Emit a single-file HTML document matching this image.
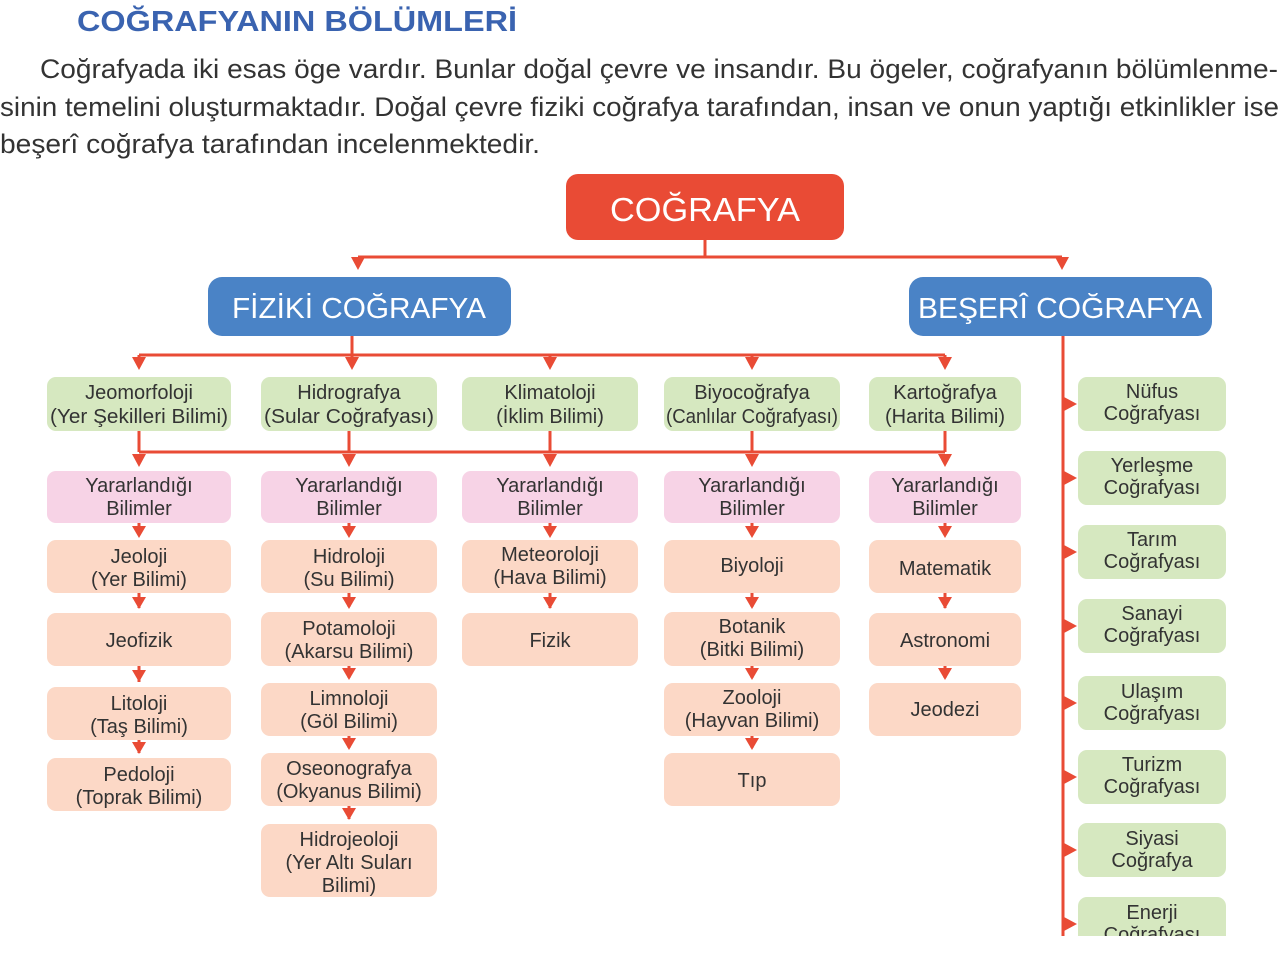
<!DOCTYPE html>
<html><head><meta charset="utf-8"><style>
html,body{margin:0;padding:0;background:#fff;width:1280px;height:976px;overflow:hidden}
svg{display:block}
text{font-family:"Liberation Sans",sans-serif}
.b{font-size:20px;fill:#333;text-anchor:middle}
</style></head><body>
<svg width="1280" height="976" viewBox="0 0 1280 976" xmlns="http://www.w3.org/2000/svg">
<text x="77" y="31" font-size="29" font-weight="bold" fill="#3a63b0" textLength="440" lengthAdjust="spacingAndGlyphs">COĞRAFYANIN BÖLÜMLERİ</text>
<g font-size="27" fill="#333">
<text x="40" y="78" textLength="1238" lengthAdjust="spacingAndGlyphs">Coğrafyada iki esas öge vardır. Bunlar doğal çevre ve insandır. Bu ögeler, coğrafyanın bölümlenme-</text>
<text x="0" y="116" textLength="1279" lengthAdjust="spacingAndGlyphs">sinin temelini oluşturmaktadır. Doğal çevre fiziki coğrafya tarafından, insan ve onun yaptığı etkinlikler ise</text>
<text x="0" y="153" textLength="540" lengthAdjust="spacingAndGlyphs">beşerî coğrafya tarafından incelenmektedir.</text>
</g>

<!-- connectors -->
<g stroke="#e94b35" stroke-width="3" fill="none">
<path d="M705 240V257M358 257H1062M358 257V262M1062 257V262"/>
<path d="M352 336V355M139 355H945M139 355V360M352 355V360M550 355V360M752 355V360M945 355V360"/>
<path d="M139 431V452M349 431V452M550 431V452M752 431V452M945 431V452M139 452H945"/>
<path d="M139 523V535M139 593V608M139 666V682M139 740V753"/>
<path d="M349 523V535M349 593V607M349 666V678M349 736V748M349 806V819"/>
<path d="M550 523V535M550 593V608"/>
<path d="M752 523V535M752 593V607M752 666V678M752 736V748"/>
<path d="M945 523V535M945 593V608M945 666V678"/>
<path d="M1063 336V936"/>
</g>
<g fill="#e94b35">
<path d="M351 257h14l-7 13zM1055 257h14l-7 13z"/>
<path d="M132 357h14l-7 13zM345 357h14l-7 13zM543 357h14l-7 13zM745 357h14l-7 13zM938 357h14l-7 13z"/>
<path d="M132 454h14l-7 13zM342 454h14l-7 13zM543 454h14l-7 13zM745 454h14l-7 13zM938 454h14l-7 13z"/>
<path d="M132 526h14l-7 12zM132 597h14l-7 12zM132 670h14l-7 12zM132 742h14l-7 12z"/>
<path d="M342 526h14l-7 12zM342 597h14l-7 12zM342 668h14l-7 12zM342 738h14l-7 12zM342 808h14l-7 12z"/>
<path d="M543 526h14l-7 12zM543 597h14l-7 12z"/>
<path d="M745 526h14l-7 12zM745 597h14l-7 12zM745 668h14l-7 12zM745 738h14l-7 12z"/>
<path d="M938 526h14l-7 12zM938 597h14l-7 12zM938 668h14l-7 12z"/>
<path d="M1064 397v14l13-7zM1064 471v14l13-7zM1064 545v14l13-7zM1064 619v14l13-7zM1064 696v14l13-7zM1064 770v14l13-7zM1064 843v14l13-7zM1064 917v14l13-7z"/>
</g>

<!-- main boxes -->
<rect x="566" y="174" width="278" height="66" rx="12" fill="#e94b35"/>
<text x="705" y="221" font-size="33" fill="#fff" text-anchor="middle" textLength="190" lengthAdjust="spacingAndGlyphs">COĞRAFYA</text>
<rect x="208" y="277" width="303" height="59" rx="14" fill="#4a83c6"/>
<text x="359" y="318" font-size="29" fill="#fff" text-anchor="middle" textLength="254" lengthAdjust="spacingAndGlyphs">FİZİKİ COĞRAFYA</text>
<rect x="909" y="277" width="303" height="59" rx="14" fill="#4a83c6"/>
<text x="1060" y="318" font-size="29" fill="#fff" text-anchor="middle" textLength="284" lengthAdjust="spacingAndGlyphs">BEŞERÎ COĞRAFYA</text>

<!-- green row -->
<g fill="#d6e8c0">
<rect x="47" y="377" width="184" height="54" rx="9"/><rect x="261" y="377" width="176" height="54" rx="9"/><rect x="462" y="377" width="176" height="54" rx="9"/><rect x="664" y="377" width="176" height="54" rx="9"/><rect x="869" y="377" width="152" height="54" rx="9"/>
<rect x="1078" y="377" width="148" height="54" rx="9"/><rect x="1078" y="451" width="148" height="54" rx="9"/><rect x="1078" y="525" width="148" height="54" rx="9"/><rect x="1078" y="599" width="148" height="54" rx="9"/><rect x="1078" y="676" width="148" height="54" rx="9"/><rect x="1078" y="750" width="148" height="54" rx="9"/><rect x="1078" y="823" width="148" height="54" rx="9"/><rect x="1078" y="897" width="148" height="54" rx="9"/>
</g>
<g fill="#f7d3e6">
<rect x="47" y="471" width="184" height="52" rx="9"/><rect x="261" y="471" width="176" height="52" rx="9"/><rect x="462" y="471" width="176" height="52" rx="9"/><rect x="664" y="471" width="176" height="52" rx="9"/><rect x="869" y="471" width="152" height="52" rx="9"/>
</g>
<g fill="#fcd8c6">
<rect x="47" y="540" width="184" height="53" rx="9"/><rect x="47" y="613" width="184" height="53" rx="9"/><rect x="47" y="687" width="184" height="53" rx="9"/><rect x="47" y="758" width="184" height="53" rx="9"/>
<rect x="261" y="540" width="176" height="53" rx="9"/><rect x="261" y="612" width="176" height="54" rx="9"/><rect x="261" y="683" width="176" height="53" rx="9"/><rect x="261" y="753" width="176" height="53" rx="9"/><rect x="261" y="824" width="176" height="73" rx="9"/>
<rect x="462" y="540" width="176" height="53" rx="9"/><rect x="462" y="613" width="176" height="53" rx="9"/>
<rect x="664" y="540" width="176" height="53" rx="9"/><rect x="664" y="612" width="176" height="54" rx="9"/><rect x="664" y="683" width="176" height="53" rx="9"/><rect x="664" y="753" width="176" height="53" rx="9"/>
<rect x="869" y="540" width="152" height="53" rx="9"/><rect x="869" y="613" width="152" height="53" rx="9"/><rect x="869" y="683" width="152" height="53" rx="9"/>
</g>
<rect x="1060" y="937" width="220" height="39" fill="#fff"/>

<g class="b">
<text x="139" y="399">Jeomorfoloji</text><text x="139" y="423" textLength="178" lengthAdjust="spacingAndGlyphs">(Yer Şekilleri Bilimi)</text>
<text x="349" y="399">Hidrografya</text><text x="349" y="423" textLength="170" lengthAdjust="spacingAndGlyphs">(Sular Coğrafyası)</text>
<text x="550" y="399">Klimatoloji</text><text x="550" y="423">(İklim Bilimi)</text>
<text x="752" y="399">Biyocoğrafya</text><text x="752" y="423" textLength="172" lengthAdjust="spacingAndGlyphs">(Canlılar Coğrafyası)</text>
<text x="945" y="399">Kartoğrafya</text><text x="945" y="423">(Harita Bilimi)</text>

<text x="139" y="492">Yararlandığı</text><text x="139" y="515">Bilimler</text>
<text x="349" y="492">Yararlandığı</text><text x="349" y="515">Bilimler</text>
<text x="550" y="492">Yararlandığı</text><text x="550" y="515">Bilimler</text>
<text x="752" y="492">Yararlandığı</text><text x="752" y="515">Bilimler</text>
<text x="945" y="492">Yararlandığı</text><text x="945" y="515">Bilimler</text>

<text x="139" y="563">Jeoloji</text><text x="139" y="586">(Yer Bilimi)</text>
<text x="139" y="647">Jeofizik</text>
<text x="139" y="710">Litoloji</text><text x="139" y="733">(Taş Bilimi)</text>
<text x="139" y="781">Pedoloji</text><text x="139" y="804">(Toprak Bilimi)</text>

<text x="349" y="563">Hidroloji</text><text x="349" y="586">(Su Bilimi)</text>
<text x="349" y="635">Potamoloji</text><text x="349" y="658">(Akarsu Bilimi)</text>
<text x="349" y="705">Limnoloji</text><text x="349" y="728">(Göl Bilimi)</text>
<text x="349" y="775">Oseonografya</text><text x="349" y="798">(Okyanus Bilimi)</text>
<text x="349" y="846">Hidrojeoloji</text><text x="349" y="869">(Yer Altı Suları</text><text x="349" y="892">Bilimi)</text>

<text x="550" y="561">Meteoroloji</text><text x="550" y="584">(Hava Bilimi)</text>
<text x="550" y="647">Fizik</text>

<text x="752" y="572">Biyoloji</text>
<text x="752" y="633">Botanik</text><text x="752" y="656">(Bitki Bilimi)</text>
<text x="752" y="704">Zooloji</text><text x="752" y="727">(Hayvan Bilimi)</text>
<text x="752" y="787">Tıp</text>

<text x="945" y="575">Matematik</text>
<text x="945" y="647">Astronomi</text>
<text x="945" y="716">Jeodezi</text>

<text x="1152" y="398">Nüfus</text><text x="1152" y="420">Coğrafyası</text>
<text x="1152" y="472">Yerleşme</text><text x="1152" y="494">Coğrafyası</text>
<text x="1152" y="546">Tarım</text><text x="1152" y="568">Coğrafyası</text>
<text x="1152" y="620">Sanayi</text><text x="1152" y="642">Coğrafyası</text>
<text x="1152" y="698">Ulaşım</text><text x="1152" y="720">Coğrafyası</text>
<text x="1152" y="771">Turizm</text><text x="1152" y="793">Coğrafyası</text>
<text x="1152" y="845">Siyasi</text><text x="1152" y="867">Coğrafya</text>
<text x="1152" y="919">Enerji</text><text x="1152" y="941">Coğrafyası</text>
</g>
<rect x="1060" y="936" width="220" height="40" fill="#fff"/>
</svg>
</body></html>
